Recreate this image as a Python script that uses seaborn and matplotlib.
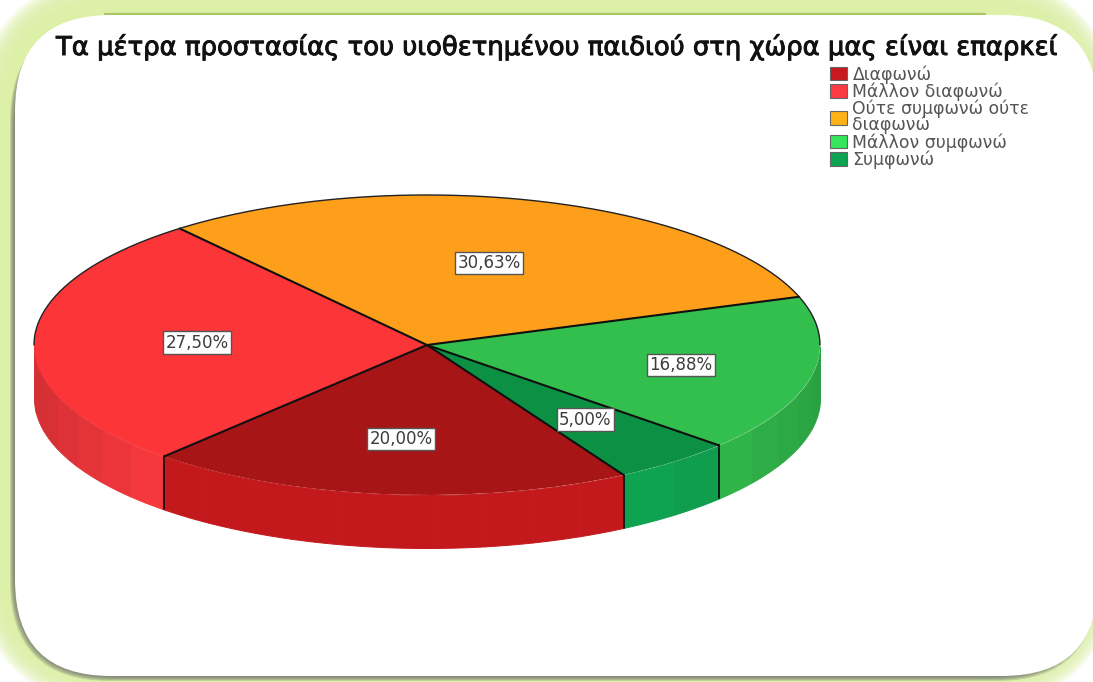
import numpy as np
import pandas as pd
import seaborn as sns
import matplotlib
matplotlib.use("Agg")
import matplotlib.pyplot as plt
from matplotlib.patches import FancyBboxPatch, Patch
import matplotlib.patheffects as pe

categories = ["Διαφωνώ", "Μάλλον διαφωνώ", "Ούτε συμφωνώ ούτε\nδιαφωνώ", "Μάλλον συμφωνώ", "Συμφωνώ"]
percentages = [20.00, 27.50, 30.63, 16.88, 5.00]
top_colors = ["#A81517", "#FC3539", "#FE9F1B", "#32BF4E", "#0C9144"]
side_colors = ["#C4191C", "#FF3A3F", "#FE9F1B", "#33C24F", "#0EA350"]
legend_colors = ["#C8191F", "#FB3A44", "#FDB114", "#35E65A", "#0EA350"]
title_text = "Τα μέτρα προστασίας του υιοθετημένου παιδιού στη χώρα μας είναι επαρκεί"
label_radius = [0.63, 0.585, 0.57, 0.66, 0.64]

sns.set_theme(style="white")
W, H = 1093, 682
fig = plt.figure(figsize=(W / 100, H / 100), dpi=100, facecolor="white")

# --- background panel
bg = fig.add_axes([0, 0, 1, 1], zorder=0)
bg.set_xlim(0, W)
bg.set_ylim(H, 0)
bg.axis("off")


def rbox(l, t, r, b, rad, **kw):
    bg.add_patch(FancyBboxPatch((l + rad, t + rad), r - l - 2 * rad, b - t - 2 * rad,
                                boxstyle=f"round,pad={rad},rounding_size={rad}",
                                linewidth=0, **kw))


green = "#DDF0A8"
for i in range(16):
    rbox(-22 + i * 1.9, -22 + i * 1.9, W + 22 - i * 1.9, H + 22 - i * 1.9, 142 - i * 1.5,
         facecolor=green, alpha=0.22, zorder=1)
bg.plot([105, 985], [14, 14], color="#A9C765", lw=1.6, zorder=2)
for i in range(6):
    rbox(10 + i, 22 + i * 0.3, W + 4 - i, 681 - i, 100, facecolor="#666666", alpha=0.22, zorder=3)
rbox(15, 15, W + 5, 676, 96, facecolor="white", zorder=4)

# --- pie
rx, ry, cx, cy = 393, 150, 427, 345
xl, yb, yt = 1.1, -1.6, 1.2
left = (cx - rx * xl) / W
width = 2 * rx * xl / W
bottom = 1 - (cy - ry * yb) / H
height = ry * (yt - yb) / H
ax = fig.add_axes([left, bottom, width, height], zorder=2)
ax.patch.set_alpha(0)

start = -60.0
depth = 53 / ry
sweep = np.array(percentages) / sum(percentages) * 360
ends = start - np.cumsum(sweep)
starts = np.r_[start, ends[:-1]]


def darker(c, f):
    return tuple(np.array(matplotlib.colors.to_rgb(c)) * f)


# side wall in facets
for s, e, col in zip(starts, ends, side_colors):
    n = max(int(abs(e - s) // 7), 1)
    edges = np.linspace(s, e, n + 1)
    for a, b in zip(edges[:-1], edges[1:]):
        t = np.radians(np.linspace(a, b, 12))
        mask = np.sin(t) <= 0.001
        if mask.sum() < 2:
            continue
        m = np.cos(np.radians((a + b) / 2))
        f = 1 - 0.17 * np.clip((abs(m) - 0.62) / 0.38, 0, 1)
        c = darker(col, f)
        ax.fill_between(np.cos(t[mask]), np.sin(t[mask]), np.sin(t[mask]) - depth,
                        color=c, lw=0.7, zorder=1)

wedges, _ = ax.pie(percentages, colors=top_colors, startangle=start, counterclock=False,
                   radius=1, wedgeprops={"linewidth": 0, "zorder": 2})
ax.set_aspect("auto")
ax.set_xlim(-xl, xl)
ax.set_ylim(yb, yt)

line = "#101010"
for a in starts:
    t = np.radians(a)
    ax.plot([0, np.cos(t)], [0, np.sin(t)], color=line, lw=1.5, zorder=3, solid_capstyle="round")
    if np.sin(t) < 0:
        ax.plot([np.cos(t)] * 2, [np.sin(t), np.sin(t) - depth], color=line, lw=1.3, zorder=3)
rim = np.radians(np.linspace(0, 180, 200))
ax.plot(np.cos(rim), np.sin(rim), color="#222222", lw=1.0, zorder=3)

mids = (starts + ends) / 2
for r, a, p in zip(label_radius, mids, percentages):
    t = np.radians(a)
    ax.text(r * np.cos(t), r * np.sin(t), f"{p:.2f}%".replace(".", ","), ha="center", va="center",
            fontsize=12, color="#3c3c3c", family="DejaVu Sans", zorder=5,
            bbox={"boxstyle": "square,pad=0.14", "fc": "white", "ec": "#555555", "lw": 1.0})

# --- title
fig.text(56 / W, 1 - 47 / H, title_text, fontsize=18.65, family="DejaVu Sans", color="#111111",
         ha="left", va="center", zorder=6,
         path_effects=[pe.withStroke(linewidth=0.7, foreground="#111111")])

# --- legend
handles = [Patch(facecolor=c, edgecolor="#666666", lw=0.8) for c in legend_colors]
leg = fig.legend(handles, categories, loc="upper left", bbox_to_anchor=(830 / W, 1 - 65 / H),
                 frameon=False, labelcolor="#555555", labelspacing=-0.06,
                 handlelength=1.0, handleheight=0.8, handletextpad=0.3, borderpad=0, borderaxespad=0,
                 prop={"family": "DejaVu Sans", "size": 12.4})
for txt in leg.get_texts():
    txt.set_linespacing(0.8)

fig.savefig("out.png", dpi=100)
